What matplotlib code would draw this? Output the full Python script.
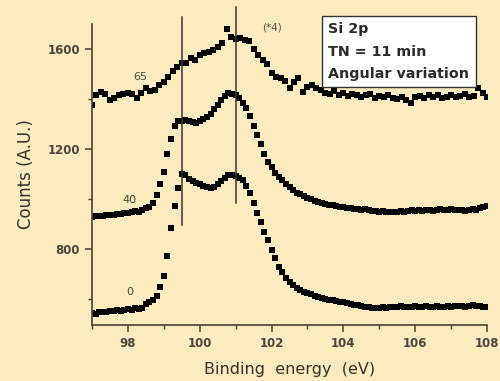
import numpy as np
import matplotlib
matplotlib.use("Agg")
import matplotlib.pyplot as plt

# Binding energy grid (eV)
energy_fine = np.round(np.arange(97.0, 108.0001, 0.1), 3)
energy_top = np.round(np.arange(97.0, 108.0001, 0.125), 3)

# Angle 0 deg spectrum
counts_0 = [544, 540, 546, 548, 546, 552, 550, 554, 552, 556,
            560, 556, 562, 560, 564, 578, 586, 596, 612, 648,
            690, 772, 884, 972, 1044, 1100, 1094, 1080, 1070, 1064,
            1058, 1050, 1046, 1042, 1048, 1058, 1070, 1084, 1094, 1096,
            1090, 1084, 1074, 1052, 1024, 984, 944, 906, 866, 836,
            794, 764, 726, 706, 684, 668, 656, 644, 634, 628,
            624, 618, 612, 606, 604, 600, 596, 594, 592, 588,
            586, 584, 580, 576, 574, 570, 568, 566, 564, 562,
            564, 566, 562, 566, 568, 566, 570, 566, 568, 566,
            570, 566, 568, 570, 566, 568, 572, 568, 566, 570,
            568, 570, 572, 570, 568, 572, 574, 572, 570, 568,
            568]

# Angle 40 deg spectrum
counts_40 = [928, 930, 932, 930, 934, 936, 934, 938, 940, 942,
             944, 946, 950, 948, 956, 962, 968, 984, 1016, 1060,
             1108, 1180, 1240, 1290, 1310, 1312, 1316, 1310, 1306, 1304,
             1312, 1318, 1326, 1340, 1360, 1378, 1396, 1414, 1424, 1420,
             1416, 1404, 1384, 1366, 1330, 1290, 1256, 1218, 1180, 1146,
             1128, 1104, 1088, 1074, 1060, 1046, 1034, 1024, 1018, 1010,
             1004, 998, 992, 988, 984, 980, 976, 974, 972, 968,
             966, 964, 962, 960, 958, 956, 958, 954, 952, 950,
             948, 950, 946, 948, 946, 948, 950, 946, 952, 954,
             950, 956, 952, 954, 956, 950, 956, 958, 954, 956,
             958, 954, 956, 956, 952, 956, 958, 954, 962, 968,
             972]

# Angle 65 deg spectrum (x4)
counts_65 = [1376, 1416, 1428, 1420, 1396, 1404, 1416, 1420,
             1424, 1420, 1404, 1426, 1444, 1432, 1436, 1456,
             1470, 1488, 1512, 1530, 1544, 1544, 1566, 1556,
             1576, 1584, 1588, 1596, 1608, 1624, 1680, 1650,
             1640, 1644, 1636, 1632, 1600, 1578, 1556, 1540,
             1506, 1490, 1486, 1472, 1444, 1468, 1486, 1428,
             1450, 1456, 1446, 1438, 1424, 1420, 1432, 1416,
             1424, 1412, 1420, 1418, 1410, 1416, 1422, 1404,
             1412, 1408, 1416, 1404, 1400, 1410, 1396, 1384,
             1408, 1412, 1404, 1416, 1410, 1418, 1404, 1410,
             1416, 1408, 1412, 1420, 1408, 1414, 1444, 1424,
             1408]

curve_labels = ["0", "40", "65"]
label_pos = [(98.05, 628), (98.05, 996), (98.34, 1488)]
ref_lines = [(99.5, 896, 1728), (101.0, 984, 1768)]

bg = "#fdebc0"
txt = "#35312b"

fig = plt.figure(figsize=(5.0, 3.81), dpi=100, facecolor=bg)
ax = fig.add_axes([0.184, 0.147, 0.790, 0.790], facecolor=bg)

ms = 3.8
ax.plot(energy_fine, counts_0, 's', color="black", ms=ms, mec="black", mew=0)
ax.plot(energy_fine, counts_40, 's', color="black", ms=ms, mec="black", mew=0)
ax.plot(energy_top, counts_65, 's', color="black", ms=ms, mec="black", mew=0)

for xv, y0, y1 in ref_lines:
    ax.plot([xv, xv], [y0, y1], color="#3a3630", lw=1.1, clip_on=False)

ax.set_xlim(97, 108)
ax.set_ylim(496, 1700)
ax.set_xticks([98, 100, 102, 104, 106, 108])
ax.set_xticks([97, 99, 101, 103, 105, 107], minor=True)
ax.set_yticks([800, 1200, 1600])
ax.set_yticks([600, 1000, 1400], minor=True)

for s in ["top", "right"]:
    ax.spines[s].set_visible(False)
for s in ["left", "bottom"]:
    ax.spines[s].set_color("#4a4030")
    ax.spines[s].set_linewidth(1.2)

ax.tick_params(which="major", direction="out", length=5, width=1.1, color="#4a4030",
               labelsize=8.5, labelcolor="#4a4540")
ax.tick_params(which="minor", direction="out", length=3, width=1.0, color="#4a4030")
for lab in ax.get_xticklabels() + ax.get_yticklabels():
    lab.set_fontweight("bold")

ax.set_xlabel("Binding  energy  (eV)", fontsize=11.5, color=txt, labelpad=9)
ax.set_ylabel("Counts (A.U.)", fontsize=12, color=txt, labelpad=9)

for lab, (lx, ly) in zip(curve_labels, label_pos):
    ax.text(lx, ly, lab, fontsize=8, color="#4a4540", ha="center", va="center")

ax.text(102.0, 1688, "(*4)", fontsize=7.5, color="#555048", ha="center", va="center",
        clip_on=False)

ax.text(0.598, 1.005, "Si 2p\nTN = 11 min\nAngular variation", transform=ax.transAxes,
        fontsize=10.3, fontweight="bold", color="#2a2a2a", ha="left", va="top",
        linespacing=1.75,
        bbox=dict(boxstyle="square,pad=0.45", fc="white", ec="#333333", lw=1.0))

fig.savefig("out.png", dpi=100, facecolor=bg)
